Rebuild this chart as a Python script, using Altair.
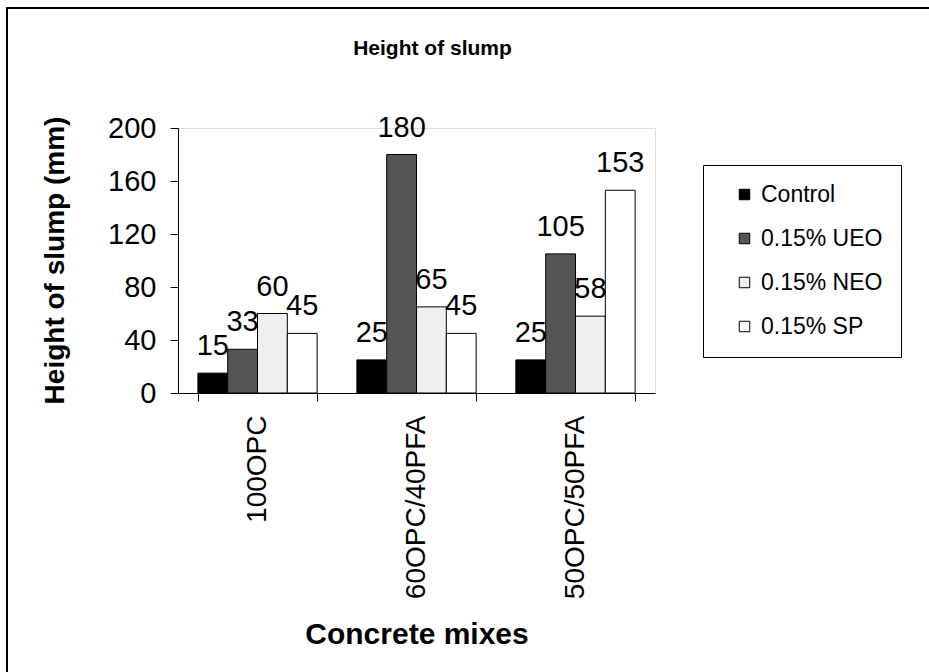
import altair as alt
import pandas as pd

mixes = ["100OPC", "60OPC/40PFA", "50OPC/50PFA"]
series = ["Control", "0.15% UEO", "0.15% NEO", "0.15% SP"]
control = [15, 25, 25]
ueo = [33, 180, 105]
neo = [60, 65, 58]
sp = [45, 45, 153]
fills = ["#000000", "#555555", "#efefef", "#ffffff"]

rows = []
for s, vals in zip(series, [control, ueo, neo, sp]):
    for m, v in zip(mixes, vals):
        rows.append({"mix": m, "series": s, "value": v})
df = pd.DataFrame(rows)

FONT = "Liberation Sans"

x = alt.X("mix:N", sort=mixes,
          scale=alt.Scale(paddingInner=0.25, paddingOuter=0.125),
          axis=alt.Axis(title="Concrete mixes", labelAngle=-90, labelAlign="right",
                        labelBaseline="middle", labelFontSize=28, labelPadding=14,
                        labelLimit=400,
                        labelColor="black", labelFont=FONT, tickBand="extent",
                        tickSize=8, tickColor="black", domainColor="black",
                        titleFontSize=30, titleFont=FONT, titleFontWeight="bold",
                        titleColor="black", titleY=241, titleBaseline="middle"))
y = alt.Y("value:Q", scale=alt.Scale(domain=[0, 200], nice=False),
          axis=alt.Axis(title="Height of slump (mm)", values=[0, 40, 80, 120, 160, 200],
                        grid=False, labelFontSize=29, labelPadding=14, labelColor="black",
                        labelFont=FONT, tickSize=8, tickColor="black", domainColor="black",
                        titleFontSize=28, titleFont=FONT, titleFontWeight="bold",
                        titleColor="black", titleX=-123, titleY=132,
                        titleBaseline="middle", titleAlign="center", titleAngle=-90))
xo = alt.XOffset("series:N", sort=series, scale=alt.Scale(domain=series))

bars = alt.Chart(df).mark_bar(stroke="black", strokeWidth=1).encode(
    x=x, y=y, xOffset=xo,
    fill=alt.Fill("series:N", scale=alt.Scale(domain=series, range=fills),
                  legend=alt.Legend(title=None, orient="none", legendX=525, legendY=37,
                                    symbolType="square", symbolSize=110,
                                    symbolStrokeColor="black", symbolStrokeWidth=1,
                                    labelFontSize=23, labelFont=FONT, labelColor="black",
                                    rowPadding=20, padding=18, symbolOffset=12,
                                    labelOffset=5, strokeColor="black",
                                    fillColor="white")),
)

labels = alt.Chart(df).mark_text(fontSize=29, font=FONT, color="black",
                                 baseline="alphabetic", dy=-18).encode(
    x=alt.X("mix:N", sort=mixes), y="value:Q", xOffset=xo, text="value:Q"
)

frame_top = alt.Chart(df).mark_rule(color="black", strokeWidth=1.5).encode(
    x=alt.value(-172), x2=alt.value(760), y=alt.value(-120))
frame_left = alt.Chart(df).mark_rule(color="black", strokeWidth=1.5).encode(
    x=alt.value(-171), y=alt.value(-120), y2=alt.value(550))

chart = alt.layer(bars, labels, frame_top, frame_left).properties(
    width=477, height=265,
    title=alt.TitleParams("Height of slump", fontSize=21, font=FONT, fontWeight="bold",
                          color="black", anchor="middle", offset=-52, dx=16),
    autosize=alt.AutoSizeParams(type="none"),
    padding={"left": 178, "top": 128, "right": 274, "bottom": 279},
).configure_view(stroke=None).configure(background="white")

chart.save("out.html", embed_options={"renderer": "svg", "actions": False})
